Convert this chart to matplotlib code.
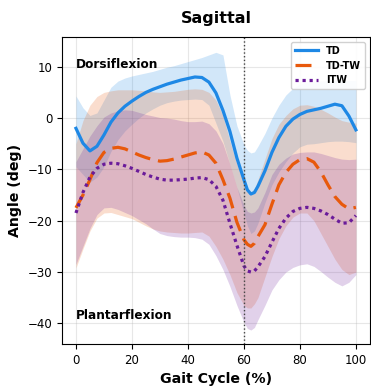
"""Sagittal ankle angle over the gait cycle: TD, TD-TW and ITW groups."""

import matplotlib

matplotlib.use("Agg")
import matplotlib.pyplot as plt


# gait cycle (%) sample positions
gait = [0, 2.5, 5, 7.5, 10, 12.5, 15, 17.5, 20, 22.5, 25, 27.5, 30, 32.5, 35,
        37.5, 40, 42.5, 45, 47.5, 50, 52.5, 55, 57.5, 60, 61.25, 62.5, 63.75,
        65, 67.5, 70, 72.5, 75, 77.5, 80, 82.5, 85, 87.5, 90, 92.5, 95, 97.5, 100]

td_mean = [-2.0, -4.9, -6.4, -5.5, -3.3, -0.8, 1.0, 2.3, 3.3, 4.2, 5.0, 5.6, 6.1,
           6.6, 7.0, 7.4, 7.7, 8.0, 7.9, 7.0, 4.9, 1.5, -2.6, -7.8, -12.0, -14.0,
           -14.8, -14.5, -13.3, -10.3, -6.7, -3.8, -1.6, -0.2, 0.7, 1.3, 1.6, 1.9,
           2.3, 2.7, 2.4, 0.4, -2.3]
td_upper = [4.3, 2.0, 0.5, 1.0, 3.5, 6.0, 7.2, 7.8, 8.2, 8.5, 8.8, 9.1, 9.5, 9.9,
            10.2, 10.6, 11.0, 11.4, 11.8, 12.3, 12.8, 12.3, 4.5, -1.5, -5.2, -6.3,
            -6.8, -6.6, -5.5, -3.0, 0.0, 2.5, 4.5, 5.8, 6.6, 7.0, 7.1, 7.2, 7.3,
            7.3, 7.3, 7.3, 7.3]
td_lower = [-9.5, -11.0, -12.5, -11.5, -9.5, -6.5, -4.2, -2.5, -1.2, 0.0, 1.0, 1.8,
            2.5, 3.0, 3.3, 3.5, 3.6, 3.7, 3.6, 2.5, -1.0, -4.5, -9.0, -13.5, -18.5,
            -21.0, -22.5, -22.0, -20.5, -16.5, -13.0, -10.5, -8.5, -6.8, -5.6, -5.1,
            -5.0, -4.8, -4.6, -4.5, -4.5, -4.6, -4.8]

tw_mean = [-17.5, -15.0, -12.0, -8.7, -6.7, -5.9, -5.7, -6.0, -6.6, -7.2, -7.7,
           -8.1, -8.4, -8.3, -8.0, -7.6, -7.2, -6.8, -6.6, -7.2, -8.8, -12.0, -15.6,
           -20.3, -23.7, -24.6, -25.0, -24.4, -23.1, -20.8, -16.8, -13.0, -10.6,
           -9.0, -8.1, -7.9, -8.6, -10.5, -13.0, -15.3, -16.8, -17.7, -17.4]
tw_upper = [-5.0, -0.5, 2.5, 4.2, 5.0, 5.3, 5.5, 5.5, 5.5, 5.4, 5.3, 5.1, 5.0, 5.1,
            5.2, 5.4, 5.6, 5.7, 5.6, 5.0, 3.5, 0.5, -4.5, -9.0, -12.5, -14.0, -14.5,
            -13.8, -12.0, -8.0, -4.0, -1.2, 0.5, 1.8, 2.5, 2.6, 2.3, 1.7, 1.0, 0.2,
            -0.5, -0.8, -1.0]
tw_lower = [-29.2, -25.5, -22.0, -19.5, -18.5, -18.4, -18.8, -19.2, -19.6, -20.3,
            -21.0, -21.6, -22.0, -22.2, -22.3, -22.4, -22.4, -22.3, -22.2, -23.0,
            -25.0, -27.5, -30.5, -34.0, -36.5, -37.0, -37.0, -36.2, -35.0, -31.0,
            -27.0, -23.5, -21.0, -19.3, -18.5, -18.5, -20.0, -22.5, -25.0, -27.5,
            -29.5, -30.5, -30.0]

itw_mean = [-18.5, -14.5, -11.5, -9.8, -9.0, -8.8, -8.9, -9.3, -9.8, -10.4, -11.0,
            -11.5, -11.9, -12.1, -12.1, -12.0, -11.9, -11.7, -11.6, -12.0, -13.3,
            -16.0, -20.5, -24.8, -28.8, -29.8, -30.0, -29.8, -29.0, -27.0, -24.2,
            -21.5, -19.5, -18.2, -17.6, -17.4, -17.6, -18.1, -18.8, -19.7, -20.5,
            -20.4, -19.0]
itw_upper = [-8.5, -6.0, -3.5, -1.5, 0.2, 1.0, 1.4, 1.6, 1.5, 1.1, 0.7, 0.4, 0.1,
             0.0, -0.2, -0.5, -0.7, -0.7, -0.6, -1.1, -2.5, -5.0, -9.0, -13.5, -17.0,
             -18.2, -18.5, -18.3, -17.5, -14.5, -11.0, -9.0, -7.8, -7.0, -6.7, -6.6,
             -6.6, -6.9, -7.3, -7.7, -8.0, -8.1, -8.0]
itw_lower = [-28.5, -25.0, -21.5, -18.8, -17.5, -17.4, -17.8, -18.4, -19.0, -19.8,
             -20.6, -21.6, -22.5, -22.9, -23.1, -23.2, -23.2, -23.3, -23.6, -24.6,
             -26.8, -29.5, -32.8, -36.5, -39.8, -41.0, -41.3, -40.8, -39.3, -36.5,
             -33.5, -31.5, -30.0, -29.1, -28.6, -28.4, -28.9, -29.9, -31.0, -32.0,
             -32.7, -32.0, -30.5]

groups = ["TD", "TD-TW", "ITW"]
colors = ["#1E88E5", "#E8590C", "#6A1B9A"]
styles = ["-", (0, (5, 2.5)), (0, (1, 1.2))]

fig = plt.figure(figsize=(3.71, 3.89), dpi=100)
ax = fig.add_axes([0.167, 0.116, 0.83, 0.789])

means = [td_mean, tw_mean, itw_mean]
uppers = [td_upper, tw_upper, itw_upper]
lowers = [td_lower, tw_lower, itw_lower]
for name, c, ls, m, up, lo in zip(groups, colors, styles, means, uppers, lowers):
    ax.fill_between(gait, lo, up, color=c, alpha=0.2, linewidth=0)
    ax.plot(gait, m, color=c, linestyle=ls, linewidth=2.3, label=name,
            solid_joinstyle="round", dash_joinstyle="round")

ax.axvline(60, color="#444444", linestyle=":", linewidth=1.0)

ax.text(0, 10.5, "Dorsiflexion", fontsize=8.7, fontweight="bold", va="center")
ax.text(0, -38.4, "Plantarflexion", fontsize=8.7, fontweight="bold", va="center")

ax.set_title("Sagittal", fontsize=11.5, fontweight="bold", pad=10)
ax.set_xlabel("Gait Cycle (%)", fontsize=10.2, fontweight="bold")
ax.set_ylabel("Angle (deg)", fontsize=10.2, fontweight="bold")
ax.tick_params(labelsize=8.5)
ax.set_xticks([0, 20, 40, 60, 80, 100])
ax.set_yticks([-40, -30, -20, -10, 0, 10])
ax.grid(alpha=0.3)
ax.set_axisbelow(True)
ax.set_xlim(-5, 105)
ax.set_ylim(-44, 15.8)

ax.legend(loc="upper right", prop={"weight": "bold", "size": 7},
          handlelength=2.4, framealpha=0.9)

fig.savefig("out.png", dpi=100)
plt.close(fig)
